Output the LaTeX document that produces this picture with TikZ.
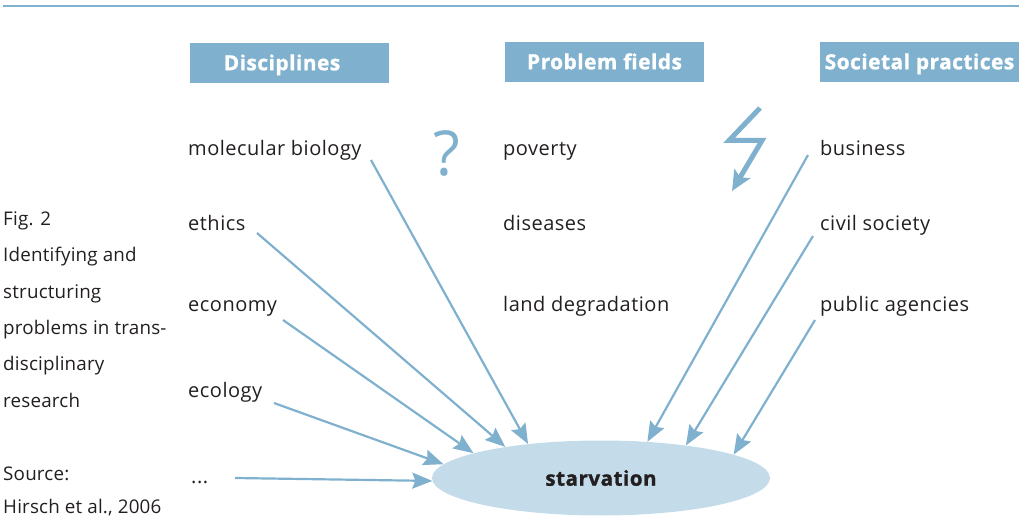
\documentclass[tikz,border=0pt]{standalone}
\usepackage{fontspec}
\setmainfont[LetterSpace=1]{Open Sans}
\newfontfamily\spacedfont[LetterSpace=2.5,BoldFeatures={FakeBold=1.2}]{Open Sans}
\usetikzlibrary{arrows.meta,shapes.geometric}
\definecolor{barblue}{HTML}{7FB1CF}
\definecolor{palblue}{HTML}{C4DCE9}
\definecolor{inkblack}{HTML}{231F20}

\begin{document}
\begin{tikzpicture}[
x=1pt, y=-1pt,
    H/.style = {rectangle, fill=barblue, text=white, inner sep=0pt,% column headers
                minimum width=199pt, minimum height=40pt, outer sep=0pt,
                text height=16pt, text depth=1.5pt,
                font=\spacedfont\fontsize{20.8}{24}\selectfont\bfseries},
    L/.style = {anchor=base west, inner sep=0pt, text=inkblack,% labels in columns
                font=\spacedfont\fontsize{20}{24}\selectfont},
    S/.style = {anchor=base west, inner sep=0pt, text=inkblack,% text on the left
                font=\fontsize{18.8}{22}\selectfont},
  arr/.style = {draw=barblue, line width=2.2pt,
                -{Stealth[length=20pt,width=16pt,inset=3pt]}},
                        ]
\useasboundingbox (0,0) rectangle (1020,518);
\draw[barblue, line width=1.2pt] (3,6) -- (1019,6);
% headers
\node[H] (H1) at (289.5,63) {\hspace*{-15pt}Disciplines};
\node[H] (H2) at (604.5,62) {Problem fields};
\node[H] (H3) at (919.5,62) {Societal practices};
% first column
\node[L] (D1) at (188,156) {molecular biology};
\node[L] (D2) at (188,231) {ethics};
\node[L] (D3) at (188,312) {economy};
\node[L] (D4) at (188,398) {ecology};
\node[L] (D5) at (191,483) {...};
% second column
\node[L] (P1) at (503,156) {poverty};
\node[L] (P2) at (503,231) {diseases};
\node[L] (P3) at (503,312) {land degradation};
% third column
\node[L] (A1) at (820,156) {business};
\node[L] (A2) at (820,231) {civil society};
\node[L] (A3) at (820,312) {public agencies};
% caption
\node[S] (F1) at (3,226) {Fig. 2};
\node[S] (F2) at (3,262) {Identifying and};
\node[S] (F3) at (3,299) {structuring};
\node[S] (F4) at (3,335) {problems in trans-};
\node[S] (F5) at (3,371) {disciplinary};
\node[S] (F6) at (3,407) {research};
\node[S] (F7) at (3,480) {Source:};
\node[S] (F8) at (3,513.5) {Hirsch et al., 2006};
% question mark and flash
\node[inner sep=0pt, text=barblue, font=\fontsize{62}{70}\selectfont] (Q) at (447,153) {?};
\coordinate (Z1) at (760,108);
\coordinate (Z2) at (729,140.5);
\coordinate (Z3) at (762,140.5);
\coordinate (Z4) at (732,191);
\draw[barblue, line width=5pt, miter limit=10,
      -{Stealth[length=20pt,width=18pt,inset=4pt]}] (Z1) -- (Z2) -- (Z3) -- (Z4);
% centre
\node[ellipse, fill=palblue, inner sep=0pt, minimum width=338pt, minimum height=75pt,
      text=inkblack, font=\spacedfont\fontsize{20.6}{24}\selectfont\bfseries] (S) at (601,478) {starvation};
% free ends
\coordinate (a1) at (371,160);
\coordinate (a2) at (257,233);
\coordinate (a3) at (283,320);
\coordinate (a4) at (274,403);
\coordinate (a5) at (235,478);
\coordinate (b1) at (808,155);
\coordinate (b2) at (813,236);
\coordinate (b3) at (815,320);
\draw[arr] (a1) -- (S.155);
\draw[arr] (a2) -- (S.162.6);
\draw[arr] (a3) -- (S.169.5);
\draw[arr] (a4) -- (S.175.4);
\draw[arr] (a5) -- (S.181.7);
\draw[arr] (b1) -- (S.38);
\draw[arr] (b2) -- (S.21.2);
\draw[arr] (b3) -- (S.10.3);
\end{tikzpicture}
\end{document}
